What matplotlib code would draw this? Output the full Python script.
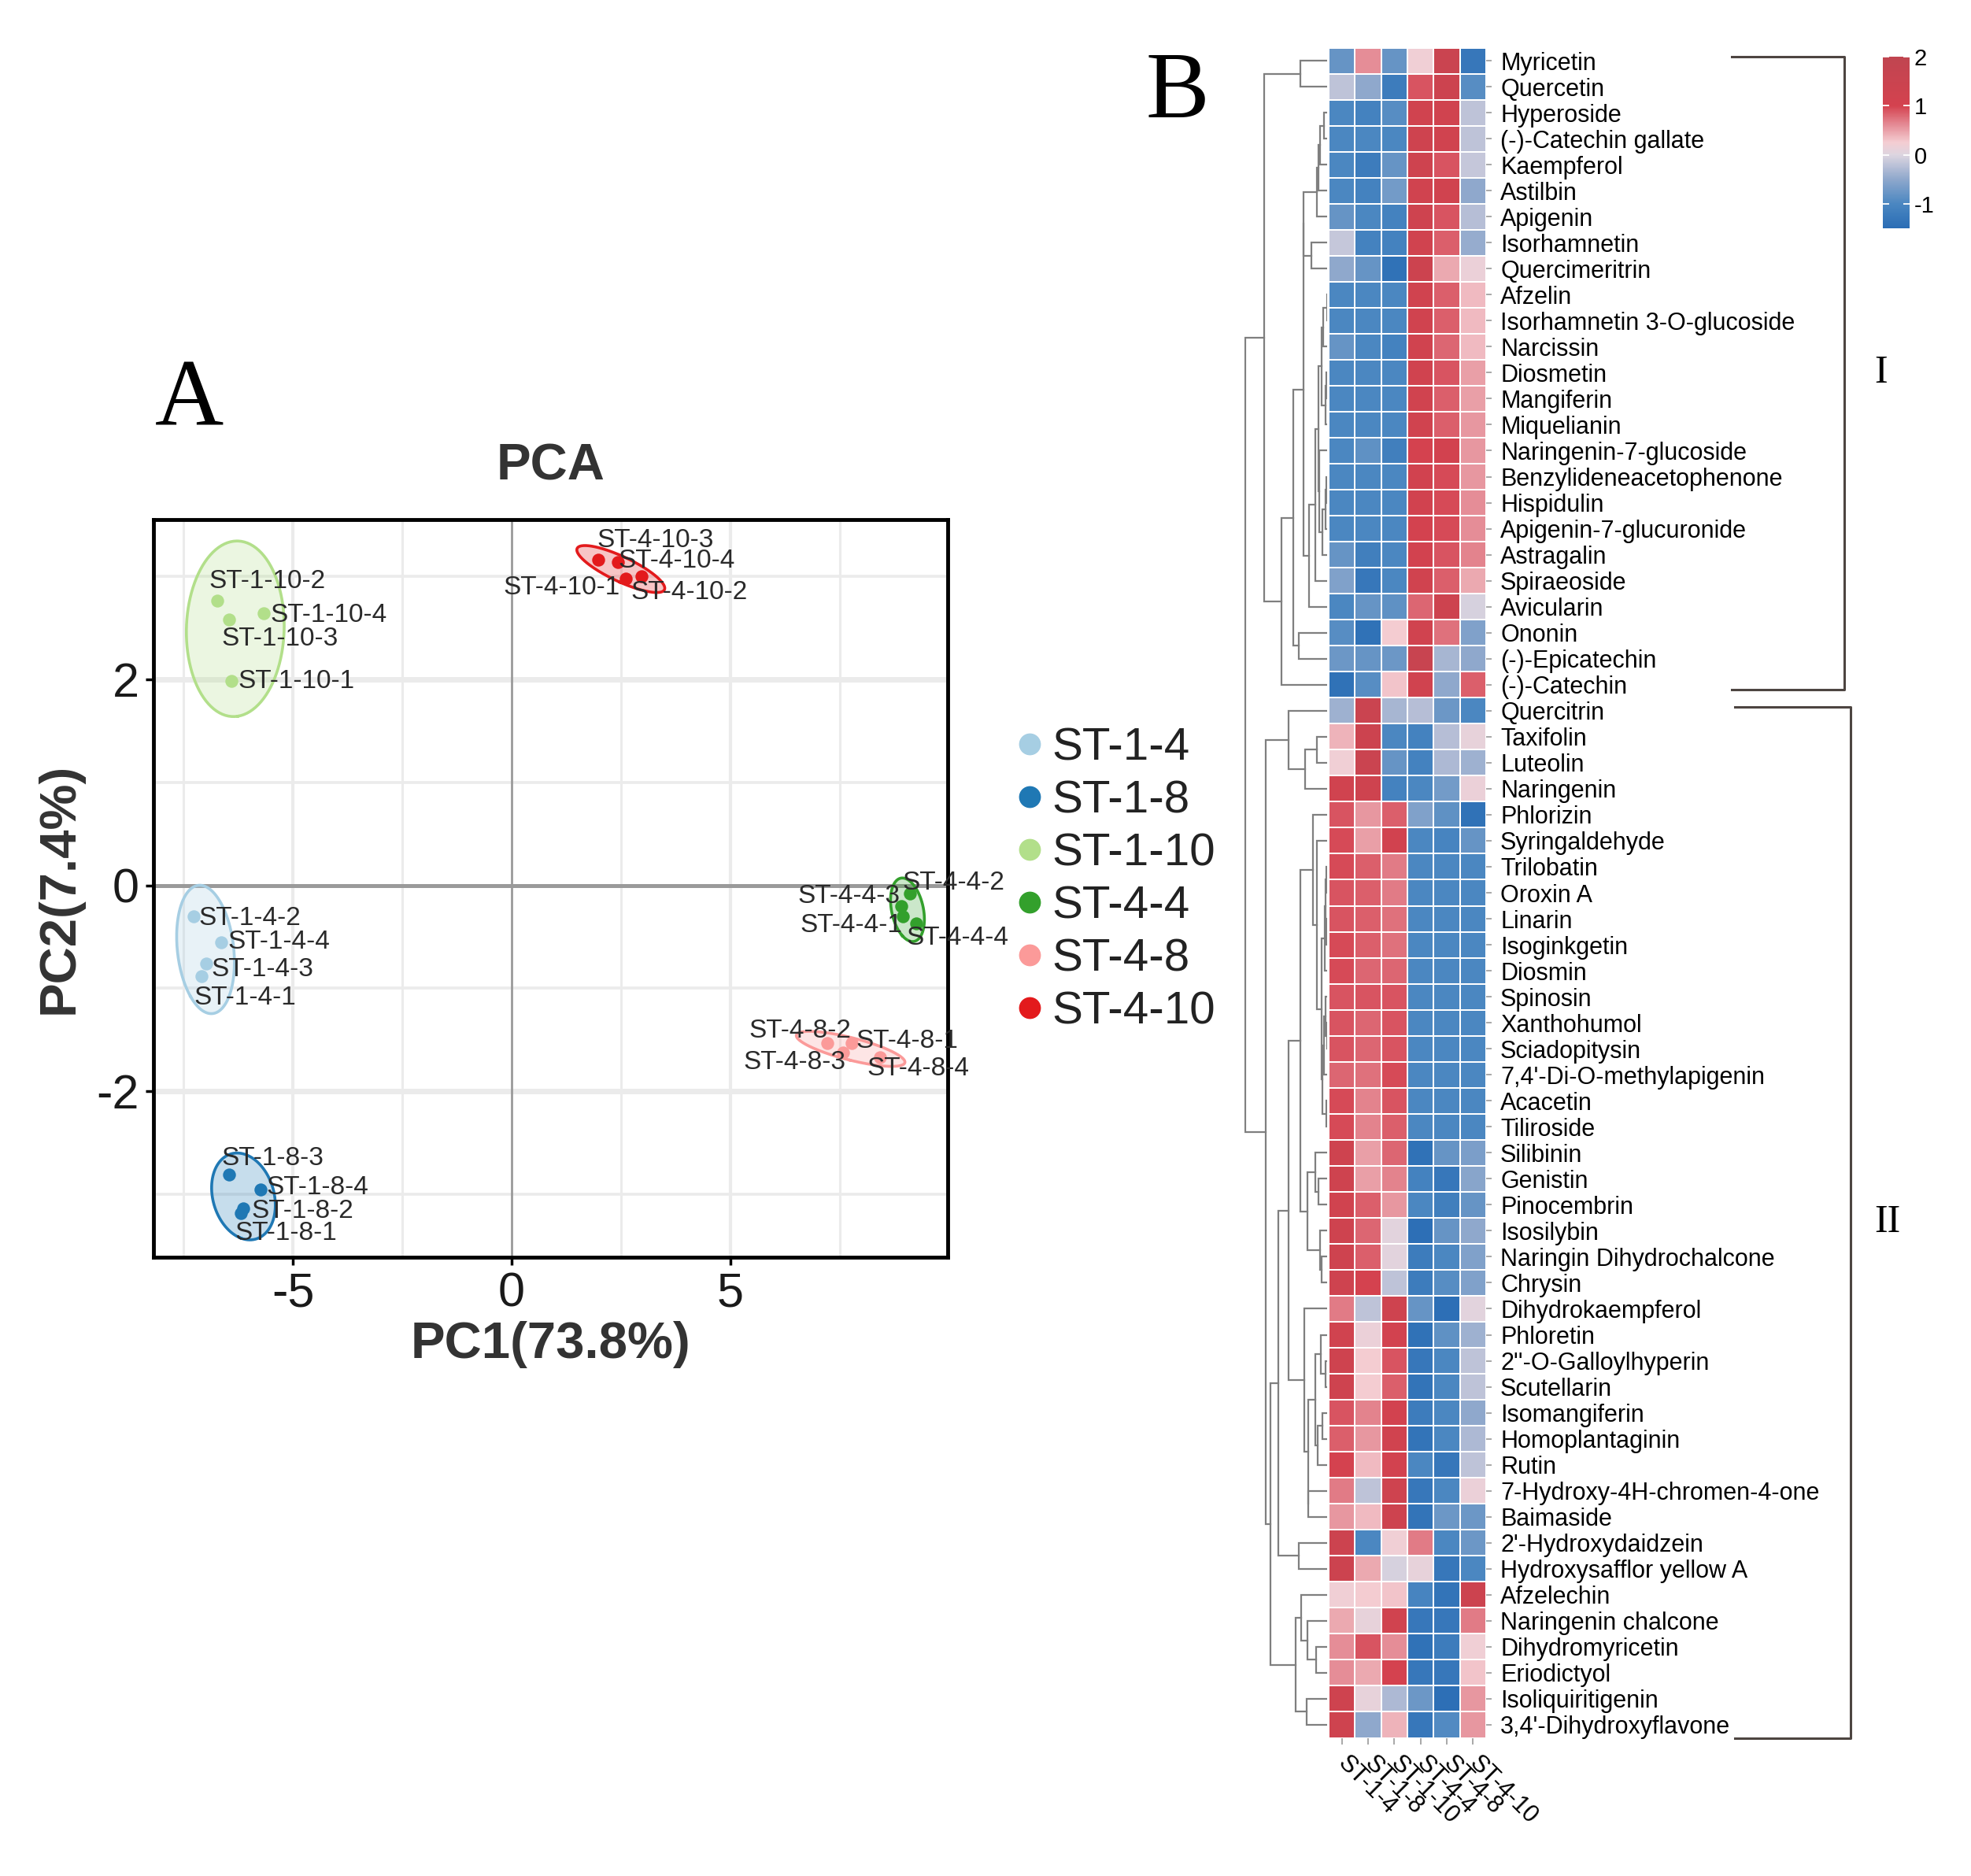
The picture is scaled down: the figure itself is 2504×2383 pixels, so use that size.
import numpy as np
import matplotlib
matplotlib.use("Agg")
import matplotlib.pyplot as plt
import matplotlib.transforms as mtransforms
from matplotlib.lines import Line2D
from matplotlib.colors import LinearSegmentedColormap, Normalize

plt.rcParams['font.family'] = ['Liberation Sans', 'DejaVu Sans']
plt.rcParams['axes.unicode_minus'] = False

# ---------------- PCA data ----------------
groups = ["ST-1-4", "ST-1-8", "ST-1-10", "ST-4-4", "ST-4-8", "ST-4-10"]
group_colors = ["#a6cee3", "#1f78b4", "#b2df8a", "#33a02c", "#fb9a99", "#e31a1c"]

# replicate 1..4 of every group
pc1 = [[-7.10, -7.28, -6.98, -6.64],
       [-6.20, -6.13, -6.46, -5.74],
       [-6.41, -6.74, -6.46, -5.67],
       [8.95, 9.10, 8.90, 9.25],
       [7.77, 7.22, 7.58, 8.43],
       [1.98, 2.97, 2.43, 2.60]]
pc2 = [[-0.88, -0.30, -0.76, -0.55],
       [-3.18, -3.14, -2.81, -2.95],
       [1.98, 2.76, 2.58, 2.64],
       [-0.30, -0.08, -0.20, -0.37],
       [-1.53, -1.53, -1.62, -1.67],
       [3.16, 3.00, 3.14, 2.98]]

# ---------------- heatmap data (row-scaled, panel B) ----------------
compounds = ["Myricetin", "Quercetin", "Hyperoside", "(-)-Catechin gallate", "Kaempferol",
             "Astilbin", "Apigenin", "Isorhamnetin", "Quercimeritrin", "Afzelin",
             "Isorhamnetin 3-O-glucoside", "Narcissin", "Diosmetin", "Mangiferin", "Miquelianin",
             "Naringenin-7-glucoside", "Benzylideneacetophenone", "Hispidulin",
             "Apigenin-7-glucuronide", "Astragalin", "Spiraeoside", "Avicularin", "Ononin",
             "(-)-Epicatechin", "(-)-Catechin", "Quercitrin", "Taxifolin", "Luteolin",
             "Naringenin", "Phlorizin", "Syringaldehyde", "Trilobatin", "Oroxin A", "Linarin",
             "Isoginkgetin", "Diosmin", "Spinosin", "Xanthohumol", "Sciadopitysin",
             "7,4'-Di-O-methylapigenin", "Acacetin", "Tiliroside", "Silibinin", "Genistin",
             "Pinocembrin", "Isosilybin", "Naringin Dihydrochalcone", "Chrysin",
             "Dihydrokaempferol", "Phloretin", "2''-O-Galloylhyperin", "Scutellarin",
             "Isomangiferin", "Homoplantaginin", "Rutin", "7-Hydroxy-4H-chromen-4-one",
             "Baimaside", "2'-Hydroxydaidzein", "Hydroxysafflor yellow A", "Afzelechin",
             "Naringenin chalcone", "Dihydromyricetin", "Eriodictyol", "Isoliquiritigenin",
             "3,4'-Dihydroxyflavone"]
samples = ["ST-1-4", "ST-1-8", "ST-1-10", "ST-4-4", "ST-4-8", "ST-4-10"]

st_1_4 = [-0.8, -0.2, -1.0, -1.0, -1.0, -1.0, -0.8, -0.15, -0.5, -1.0,
          -1.0, -0.8, -1.0, -1.0, -1.0, -1.0, -1.0, -1.0, -1.0, -0.8,
          -0.6, -1.0, -0.9, -0.75, -1.4, -0.4, 0.4, 0.2, 1.2, 0.9,
          0.95, 0.95, 0.9, 0.9, 0.95, 0.95, 0.9, 0.9, 0.9, 0.8,
          0.95, 0.95, 1.3, 1.3, 1.2, 1.3, 1.3, 1.3, 0.7, 1.2,
          1.3, 1.3, 0.9, 0.85, 1.0, 0.7, 0.55, 1.4, 1.4, 0.2,
          0.45, 0.6, 0.6, 1.3, 1.3]
st_1_8 = [0.6, -0.5, -1.1, -1.0, -1.2, -1.1, -1.0, -1.1, -0.8, -1.0,
          -1.0, -1.0, -1.0, -1.0, -1.0, -0.85, -1.0, -1.0, -1.0, -1.15,
          -1.3, -0.8, -1.4, -0.8, -0.9, 1.5, 1.4, 1.5, 1.3, 0.55,
          0.5, 0.85, 0.85, 0.85, 0.85, 0.8, 0.9, 0.8, 0.8, 0.75,
          0.65, 0.65, 0.5, 0.5, 0.85, 0.8, 0.85, 1.0, -0.2, 0.15,
          0.25, 0.25, 0.65, 0.55, 0.35, -0.2, 0.35, -1.0, 0.45, 0.25,
          0.1, 0.9, 0.45, 0.1, -0.5]
st_1_10 = [-0.8, -1.2, -0.9, -1.0, -0.8, -0.7, -1.1, -1.1, -1.4, -1.0,
           -1.0, -1.1, -1.0, -1.0, -1.0, -1.15, -1.0, -1.0, -1.0, -1.0,
           -1.0, -0.85, 0.25, -0.75, 0.3, -0.35, -1.0, -0.8, -1.1, 0.85,
           1.15, 0.7, 0.7, 0.75, 0.75, 0.8, 0.9, 0.9, 0.9, 0.95,
           0.9, 0.85, 0.8, 0.65, 0.55, 0.05, 0.05, -0.2, 1.3, 1.1,
           0.9, 0.85, 1.1, 1.2, 1.1, 1.3, 1.35, 0.2, -0.05, 0.3,
           1.2, 0.6, 1.0, -0.3, 0.4]
st_4_4 = [0.2, 0.9, 1.2, 1.3, 1.3, 1.2, 1.3, 1.2, 1.4, 1.2,
          1.2, 1.2, 1.2, 1.2, 1.2, 1.0, 1.15, 1.15, 1.05, 1.1,
          1.2, 0.8, 1.2, 1.6, 1.2, -0.25, -1.1, -1.1, -1.0, -0.6,
          -1.0, -1.0, -1.0, -1.0, -1.0, -1.0, -1.0, -1.0, -1.0, -1.0,
          -1.0, -1.0, -1.4, -1.1, -1.0, -1.45, -1.2, -1.2, -0.8, -1.4,
          -1.3, -1.35, -1.2, -1.35, -1.0, -1.3, -1.35, 0.7, 0.1, -1.05,
          -1.3, -1.4, -1.3, -0.75, -1.3]
st_4_8 = [1.5, 1.4, 1.2, 1.2, 0.9, 1.2, 0.9, 0.85, 0.45, 0.85,
          0.85, 0.8, 0.9, 0.85, 0.85, 1.1, 0.95, 0.95, 0.95, 0.9,
          0.85, 1.35, 0.75, -0.35, -0.5, -0.75, -0.25, -0.3, -0.7, -0.85,
          -1.05, -1.0, -1.0, -1.0, -1.0, -1.0, -1.0, -1.0, -1.0, -1.0,
          -1.0, -1.0, -0.8, -1.3, -1.15, -0.8, -1.0, -0.9, -1.45, -0.85,
          -1.0, -1.0, -1.0, -1.0, -1.3, -1.0, -0.75, -1.0, -1.3, -1.35,
          -1.3, -1.2, -1.3, -1.45, -0.95]
st_4_10 = [-1.3, -0.9, -0.2, -0.2, -0.15, -0.5, -0.25, -0.45, 0.15, 0.35,
           0.35, 0.35, 0.5, 0.5, 0.55, 0.55, 0.55, 0.6, 0.6, 0.65,
           0.45, -0.05, -0.6, -0.5, 0.85, -1.0, 0.1, -0.4, 0.15, -1.4,
           -0.8, -1.0, -1.0, -1.0, -1.0, -1.0, -1.0, -1.0, -1.0, -1.0,
           -1.0, -1.0, -0.65, -0.55, -0.8, -0.5, -0.6, -0.6, 0.05, -0.4,
           -0.2, -0.2, -0.5, -0.3, -0.2, 0.15, -0.75, -0.75, -1.0, 1.4,
           0.7, 0.2, 0.3, 0.55, 0.55]

cluster_names = ["I", "II"]
cluster_sizes = [25, 40]

# ---------------- layout / style ----------------
# label offsets (data units) and anchor side for each replicate label
lab_dx = [[-0.17, 0.12, 0.11, 0.15],
          [-0.12, 0.18, -0.18, 0.14],
          [0.15, -0.19, -0.18, 0.15],
          [-0.01, -0.16, -0.02, -0.23],
          [0.10, 0.54, 0.06, -0.30],
          [0.49, -0.24, -0.48, -0.16]]
lab_dy = [[-0.21, -0.02, -0.06, 0.0],
          [-0.20, -0.02, 0.16, 0.02],
          [0.0, 0.19, -0.19, -0.02],
          [-0.09, 0.10, 0.09, -0.14],
          [0.02, 0.12, -0.10, -0.11],
          [-0.27, -0.16, 0.21, 0.17]]
lab_ha = [["left"] * 4, ["left"] * 4, ["left"] * 4,
          ["right", "left", "right", "left"],
          ["left", "right", "right", "left"],
          ["right", "left", "left", "left"]]

W, H = 2504, 2383
fig = plt.figure(figsize=(W / 100, H / 100), dpi=100)


def fx(px):
    return px / W


def fy(py):
    return 1 - py / H


# ================= Panel A: PCA =================
ax = fig.add_axes([fx(195), fy(1597), fx(1204) - fx(195), fy(660) - fy(1597)])
ax.set_xlim(-8.19, 9.97)
ax.set_ylim(-3.61, 3.55)
for v in [-7.5, -2.5, 2.5, 7.5]:
    ax.axvline(v, color="#ebebeb", lw=2.2, zorder=0)
for v in [-5, 5]:
    ax.axvline(v, color="#ebebeb", lw=3.0, zorder=0)
for v in [-3, -1, 1, 3]:
    ax.axhline(v, color="#ebebeb", lw=2.6, zorder=0)
for v in [-2, 2]:
    ax.axhline(v, color="#ebebeb", lw=5.0, zorder=0)
ax.axhline(0, color="#9a9a9a", lw=3.6, zorder=1)
ax.axvline(0, color="#9a9a9a", lw=2.0, zorder=1)

chi_r = np.sqrt(5.991)  # 95% normal ellipse
for g, col, xs, ys in zip(groups, group_colors, pc1, pc2):
    pts = np.column_stack([xs, ys])
    mu = pts.mean(axis=0)
    vals, vecs = np.linalg.eigh(np.cov(pts.T))
    t = np.linspace(0, 2 * np.pi, 200)
    circ = np.vstack([np.cos(t), np.sin(t)]) * chi_r
    ell = (vecs @ np.diag(np.sqrt(vals)) @ circ).T + mu
    ax.fill(ell[:, 0], ell[:, 1], color=col, alpha=0.25, lw=0, zorder=2)
    ax.plot(ell[:, 0], ell[:, 1], color=col, lw=2.6, zorder=3)
    ax.scatter(xs, ys, s=140, color=col, zorder=4, linewidths=0)

for gi, g in enumerate(groups):
    for k in range(4):
        ax.text(pc1[gi][k] + lab_dx[gi][k], pc2[gi][k] + lab_dy[gi][k], f"{g}-{k + 1}",
                ha=lab_ha[gi][k], va="center", fontsize=24, color="#2a2a2a", zorder=5)

ax.set_xticks([-5, 0, 5])
ax.set_yticks([-2, 0, 2])
ax.set_xticklabels(["-5", "0", "5"])
ax.set_yticklabels(["-2", "0", "2"])
ax.tick_params(labelsize=44, length=7, width=2.5, color="black", labelcolor="#1a1a1a", pad=6)
for s in ax.spines.values():
    s.set_linewidth(3.5)
    s.set_color("black")
ax.set_xlabel("PC1(73.8%)", fontsize=47, fontweight="bold", color="#333333", labelpad=4)
ax.set_ylabel("PC2(7.4%)", fontsize=47, fontweight="bold", color="#333333", labelpad=12)
ax.set_title("PCA", fontsize=47, fontweight="bold", color="#333333", pad=36)

handles = [Line2D([], [], marker="o", ls="", markersize=19, color=c) for c in group_colors]
fig.legend(handles, groups, loc="center left", bbox_to_anchor=(fx(1226), fy(1118)),
           frameon=False, fontsize=42, handletextpad=0.0, labelspacing=0.22,
           handlelength=1.0, labelcolor="#222222")

fig.text(fx(240), fy(511), "A", fontsize=87, family="Liberation Serif", ha="center", va="center")

# ================= Panel B: heatmap =================
data = np.column_stack([st_1_4, st_1_8, st_1_10, st_4_4, st_4_8, st_4_10])
n_rows = len(compounds)

top_px, bot_px = 60.5, 2207.5
axh = fig.add_axes([fx(1688), fy(bot_px), fx(1888) - fx(1688), fy(top_px) - fy(bot_px)])
cmap = LinearSegmentedColormap.from_list(
    "hm", [(0.0, "#2a6db5"), (0.5 / 3.5, "#4b87c1"), (1.0 / 3.5, "#8fa8cc"),
           (1.5 / 3.5, "#ddd5e0"), (1.75 / 3.5, "#f4cdd2"), (2.1 / 3.5, "#e58d97"),
           (2.5 / 3.5, "#d4424f"), (1.0, "#c04550")])
norm = Normalize(vmin=-1.5, vmax=2.0)
mesh = axh.pcolormesh(np.arange(7), np.arange(n_rows + 1), data, cmap=cmap, norm=norm,
                      edgecolors="white", linewidth=1.3)
axh.set_xlim(0, 6)
axh.set_ylim(n_rows, 0)
for s in axh.spines.values():
    s.set_visible(False)
axh.yaxis.tick_right()
axh.set_yticks(np.arange(n_rows) + 0.5)
axh.set_yticklabels(compounds, fontsize=22)
axh.set_xticks(np.arange(6) + 0.5)
axh.set_xticklabels(samples, fontsize=22, rotation=-45, ha="left", va="center",
                    rotation_mode="anchor")
axh.tick_params(axis="y", length=5, width=1.2, color="#9a9a9a", pad=8)
axh.tick_params(axis="x", length=6, width=1.2, color="#9a9a9a", pad=14)

# row dendrogram: complete linkage restricted to neighbouring rows (keeps display order)
dist = np.sqrt(((data[:, None, :] - data[None, :, :]) ** 2).sum(-1))
clusters = [[i] for i in range(n_rows)]
pos = [i + 0.5 for i in range(n_rows)]
hts = [0.0] * n_rows
segs = []
while len(clusters) > 1:
    link = [dist[np.ix_(clusters[k], clusters[k + 1])].max() for k in range(len(clusters) - 1)]
    k = int(np.argmin(link))
    h = max(link[k], hts[k], hts[k + 1])
    segs.append(([hts[k], h, h, hts[k + 1]], [pos[k], pos[k], pos[k + 1], pos[k + 1]]))
    clusters[k:k + 2] = [clusters[k] + clusters[k + 1]]
    pos[k:k + 2] = [(pos[k] + pos[k + 1]) / 2]
    hts[k:k + 2] = [h]

axd = fig.add_axes([fx(1581), fy(bot_px), fx(1686) - fx(1581), fy(top_px) - fy(bot_px)])
for xs_, ys_ in segs:
    axd.plot(xs_, ys_, color="#7f7f7f", lw=1.6, solid_joinstyle="miter")
axd.set_xlim(hts[0] * 1.01, 0)
axd.set_ylim(n_rows, 0)
axd.axis("off")

# colour key
axc = fig.add_axes([fx(2392), fy(290), fx(2426) - fx(2392), fy(72) - fy(290)])
cb = fig.colorbar(mesh, cax=axc, ticks=[-1, 0, 1, 2])
cb.outline.set_visible(False)
axc.tick_params(direction="in", length=6, width=1.3, color="white", labelsize=21,
                left=True, right=True, pad=4)

# cluster brackets
tr = mtransforms.blended_transform_factory(fig.transFigure, axh.transData)
starts = np.cumsum([0] + cluster_sizes[:-1])
br_x0 = [fx(2200), fx(2204)]
br_x1 = [fx(2343), fx(2351)]
br_pad = [(0.35, 0.3), (0.36, 0.0)]
txt_x = [fx(2390), fx(2398)]
for i, (nm, st, sz) in enumerate(zip(cluster_names, starts, cluster_sizes)):
    y0 = st + br_pad[i][0]
    y1 = st + sz - br_pad[i][1]
    fig.add_artist(Line2D([br_x0[i], br_x1[i], br_x1[i], br_x0[i]], [y0, y0, y1, y1],
                          transform=tr, color="#4d4541", lw=2.2))
    fig.text(txt_x[i], (y0 + y1) / 2, nm, transform=tr, fontsize=36,
             family="Liberation Serif", ha="center", va="center")

fig.text(fx(1496), fy(120), "B", fontsize=87, family="Liberation Serif", ha="center", va="center")

fig.savefig("out.png", dpi=100, facecolor="white")
